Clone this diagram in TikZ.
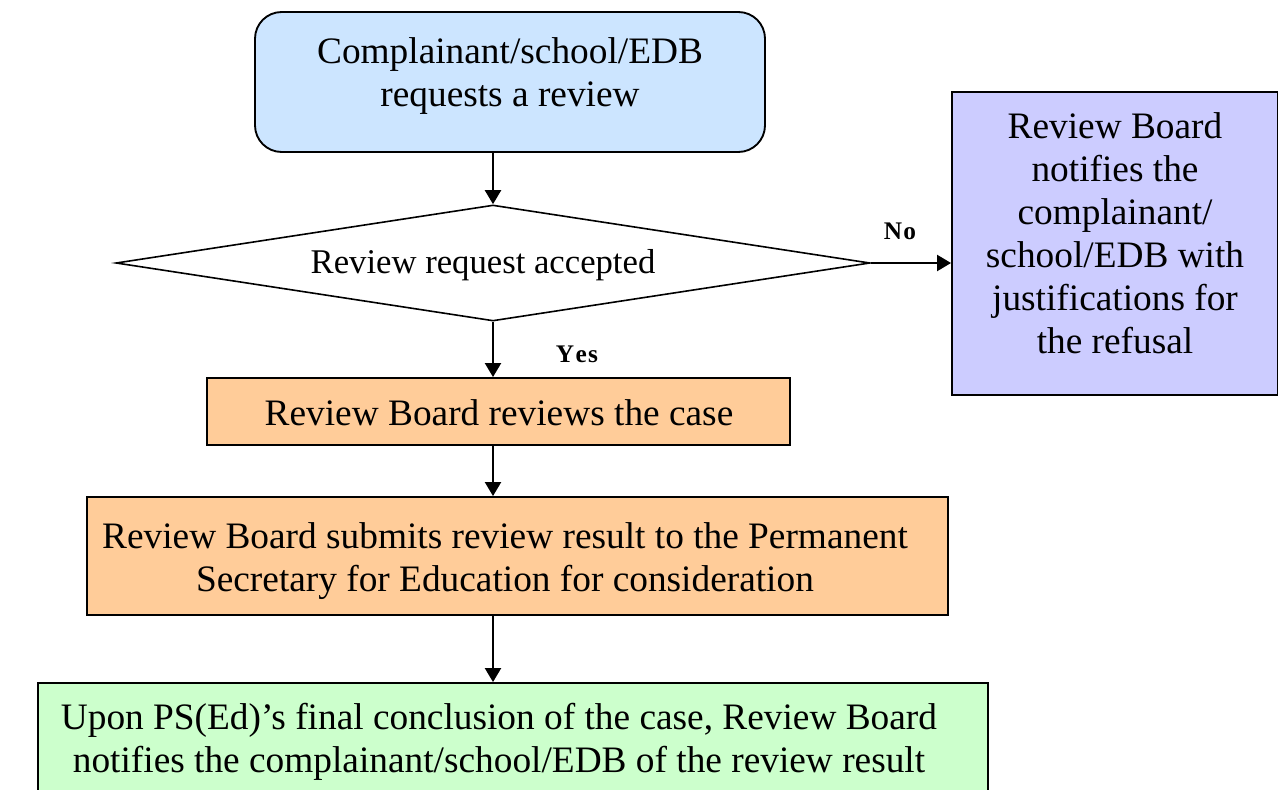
\documentclass[tikz,border=0pt]{standalone}
\usepackage{fontspec}
\setmainfont{Liberation Serif}
\usetikzlibrary{shapes.geometric,arrows.meta}
\definecolor{reqblue}{HTML}{CCE5FF}
\definecolor{refusal}{HTML}{CCCCFF}
\definecolor{peach}{HTML}{FFCC99}
\definecolor{mint}{HTML}{CCFFCC}
\begin{document}
\begin{tikzpicture}[x=0.75pt,y=-0.75pt,
  box/.style={draw=black,line width=1.4pt,inner sep=0pt},
  txt/.style={font=\fontsize{28}{32.3}\selectfont,align=center,inner sep=0pt},
  lbl/.style={font=\fontsize{19}{22}\selectfont\bfseries,inner sep=0pt},
  flow/.style={line width=1.6pt,-{Triangle[length=10.5pt,width=12pt]}}]
\useasboundingbox (0,0) rectangle (1278,789);
% process boxes
\node[box,fill=reqblue,rounded corners=20pt,minimum width=382.5pt,minimum height=105pt] (req) at (510,82) {};
\node[txt] at (510,76) {Complainant/school/EDB\\requests a review};
\node[box,diamond,fill=white,line width=1.2pt,minimum width=565.5pt,minimum height=87pt] (acc) at (493,263) {};
\node[txt,font=\fontsize{26}{30}\selectfont] at (483,265) {Review request accepted};
\node[box,fill=refusal,minimum width=244.5pt,minimum height=227.25pt] (ref) at (1115,243.5) {};
\node[txt] at (1115,233) {Review Board\\notifies the\\complainant/\\school/EDB with\\justifications for\\the refusal};
\node[box,fill=peach,minimum width=437.25pt,minimum height=50.25pt] (rev) at (498.5,411.5) {};
\node[txt] at (499,413) {Review Board reviews the case};
\node[box,fill=peach,minimum width=645.75pt,minimum height=88.5pt] (sub) at (517.5,556) {};
\node[txt] at (505,561) {Review Board submits review result to the Permanent\\Secretary for Education for consideration};
\node[box,fill=mint,minimum width=712.5pt,minimum height=120pt] (res) at (513,763) {};
\node[txt] at (499,742) {Upon PS(Ed)'s final conclusion of the case, Review Board\\notifies the complainant/school/EDB of the review result};
% connectors
\draw[flow] (req.south -| acc.north) -- (acc.north);
\draw[flow] (acc.east) -- (ref.west |- acc.east);
\draw[flow] (acc.south) -- (rev.north -| acc.south);
\draw[flow] (rev.south -| acc.south) -- (sub.north -| acc.south);
\draw[flow] (sub.south -| acc.south) -- (res.north -| acc.south);
\node[lbl] at (900,231) {N\kern1pt o};
\node[lbl] at (577,354) {Y\kern1pt e\kern1pt s};
\end{tikzpicture}
\end{document}
